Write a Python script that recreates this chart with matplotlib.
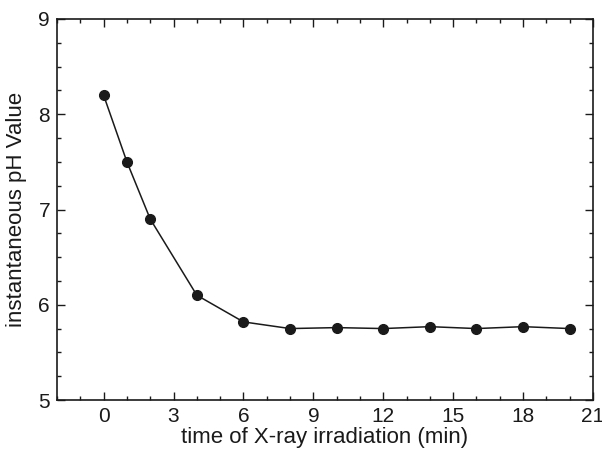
import matplotlib
matplotlib.use("Agg")
import matplotlib.pyplot as plt
from matplotlib.ticker import MultipleLocator

plt.rcParams['font.family'] = ['Liberation Sans', 'DejaVu Sans']

time_min = [0, 1, 2, 4, 6, 8, 10, 12, 14, 16, 18, 20]
ph_values = [8.2, 7.5, 6.9, 6.1, 5.82, 5.75, 5.76, 5.75, 5.77, 5.75, 5.77, 5.75]
x_ticks = [0, 3, 6, 9, 12, 15, 18, 21]
y_ticks = [5, 6, 7, 8, 9]

fig = plt.figure(figsize=(6.02, 4.51), dpi=100)
ax = fig.add_axes([57/602, 51/451, 536/602, 381/451])
ax.plot(time_min, ph_values, '-o', color='#1a1a1a', lw=1.1, markersize=7)
ax.set_xlim(-2, 21)
ax.set_ylim(5, 9)
ax.set_xticks(x_ticks)
ax.set_yticks(y_ticks)
ax.xaxis.set_minor_locator(MultipleLocator(1))
ax.yaxis.set_minor_locator(MultipleLocator(0.25))
ax.tick_params(which='both', direction='in', top=True, right=True, labelsize=15, width=1, colors='#1a1a1a')
ax.tick_params(which='major', length=5.5)
ax.tick_params(which='minor', length=3)
ax.tick_params(axis='x', pad=5)
ax.tick_params(axis='y', pad=5)
for s in ax.spines.values():
    s.set_linewidth(1.2)
    s.set_color('#1a1a1a')
ax.set_xlabel('time of X-ray irradiation (min)', fontsize=16, labelpad=1, color='#1a1a1a')
ax.set_ylabel('instantaneous pH Value', fontsize=16, labelpad=8, color='#1a1a1a')
fig.savefig('out.png', dpi=100)
